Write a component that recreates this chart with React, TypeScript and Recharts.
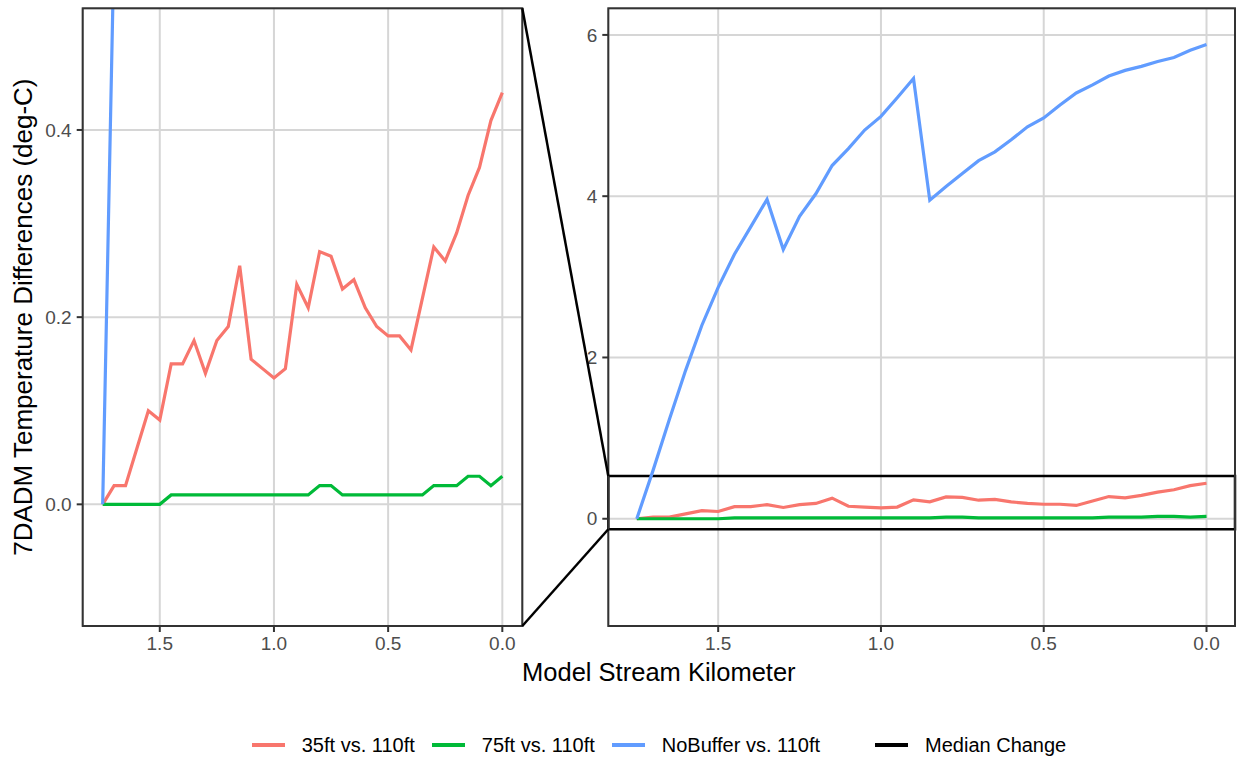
import React from "react";
import { LineChart, Line, XAxis, YAxis, CartesianGrid, ReferenceArea } from "recharts";

// stream kilometer, upstream -> downstream
const km = [
  1.75, 1.7, 1.65, 1.6, 1.55, 1.5, 1.45, 1.4, 1.35, 1.3, 1.25, 1.2,
  1.15, 1.1, 1.05, 1.0, 0.95, 0.9, 0.85, 0.8, 0.75, 0.7, 0.65, 0.6,
  0.55, 0.5, 0.45, 0.4, 0.35, 0.3, 0.25, 0.2, 0.15, 0.1, 0.05, 0.0,
];

const diff35 = [
  0, 0.02, 0.02, 0.06, 0.1, 0.09, 0.15, 0.15, 0.175, 0.14, 0.175, 0.19,
  0.255, 0.155, 0.145, 0.135, 0.145, 0.235, 0.21, 0.27, 0.265, 0.23, 0.24, 0.21,
  0.19, 0.18, 0.18, 0.165, 0.22, 0.275, 0.26, 0.29, 0.33, 0.36, 0.41, 0.44,
];

const diff75 = [
  0, 0, 0, 0, 0, 0, 0.01, 0.01, 0.01, 0.01, 0.01, 0.01,
  0.01, 0.01, 0.01, 0.01, 0.01, 0.01, 0.01, 0.02, 0.02, 0.01, 0.01, 0.01,
  0.01, 0.01, 0.01, 0.01, 0.01, 0.02, 0.02, 0.02, 0.03, 0.03, 0.02, 0.03,
];

const diffNoBuffer = [
  0, 0.6, 1.23, 1.84, 2.4, 2.87, 3.28, 3.62, 3.96, 3.34, 3.75, 4.03,
  4.38, 4.59, 4.82, 4.99, 5.22, 5.46, 3.95, 4.12, 4.28, 4.44, 4.55, 4.7,
  4.86, 4.97, 5.13, 5.28, 5.38, 5.49, 5.56, 5.61, 5.67, 5.72, 5.81, 5.88,
];

const xTicks = [1.5, 1.0, 0.5, 0.0];
const zoomTicks = [0, 0.2, 0.4];
const fullTicks = [0, 2, 4, 6];

const series = [
  { key: "d35", name: "35ft vs. 110ft", color: "#F8766D" },
  { key: "d75", name: "75ft vs. 110ft", color: "#00BA38" },
  { key: "dNB", name: "NoBuffer vs. 110ft", color: "#619CFF" },
];

const data = km.map((k, i) => ({
  km: k,
  d35: diff35[i],
  d75: diff75[i],
  dNB: diffNoBuffer[i],
}));

const FONT = "'Liberation Sans', Arial, Helvetica, sans-serif";
const xDomain: [number, number] = [-0.0875, 1.8375];
const zoomDomain: [number, number] = [-0.13, 0.53];
const fullDomain: [number, number] = [-1.33, 6.33];

// layout of the two panels (page pixels)
const CH = 660;
const TOP = 8.3;
const BOTTOM = 626;
const L_X0 = 82.7;
const L_X1 = 522.3;
const R_LEFT = 530;
const R_X0 = 608.3;
const R_X1 = 1235;

const tickStyle = { fill: "#4D4D4D", fontSize: 19, fontFamily: FONT };

const fullY = (v: number) =>
  TOP + ((fullDomain[1] - v) / (fullDomain[1] - fullDomain[0])) * (BOTTOM - TOP);

const Panel = ({ width, yWidth, right, domain, ticks, fmt, zoomBox }: any) => (
  <LineChart
    width={width}
    height={CH}
    data={data}
    margin={{ top: TOP, right, bottom: 4, left: 0 }}
  >
    <CartesianGrid stroke="#D6D6D6" strokeWidth={2} />
    <XAxis
      dataKey="km"
      type="number"
      domain={xDomain}
      reversed
      allowDataOverflow
      ticks={xTicks}
      tickFormatter={(v: number) => v.toFixed(1)}
      height={30}
      tickSize={6}
      tickMargin={5}
      axisLine={false}
      tickLine={{ stroke: "#333333", strokeWidth: 2 }}
      tick={tickStyle}
    />
    <YAxis
      type="number"
      domain={domain}
      allowDataOverflow
      ticks={ticks}
      tickFormatter={fmt}
      width={yWidth}
      tickSize={6}
      tickMargin={5}
      axisLine={false}
      tickLine={{ stroke: "#333333", strokeWidth: 2 }}
      tick={tickStyle}
    />
    {series.map((s) => (
      <Line
        key={s.key}
        type="linear"
        dataKey={s.key}
        stroke={s.color}
        strokeWidth={3.2}
        dot={false}
        isAnimationActive={false}
      />
    ))}
    {zoomBox && (
      <ReferenceArea
        y1={zoomDomain[0]}
        y2={zoomDomain[1]}
        fill="none"
        stroke="#000000"
        strokeWidth={2.5}
        ifOverflow="visible"
      />
    )}
  </LineChart>
);

const Legend = () => (
  <div
    style={{
      position: "absolute",
      top: 733,
      left: 0,
      width: 1318,
      height: 24,
      display: "flex",
      justifyContent: "center",
      alignItems: "center",
      fontFamily: FONT,
      fontSize: 20,
      color: "#000",
    }}
  >
    {[...series, { key: "median", name: "Median Change", color: "#000000" }].map((s, i) => (
      <div
        key={s.key}
        style={{
          display: "flex",
          alignItems: "center",
          marginLeft: i === 0 ? 0 : i === 3 ? 55 : 17,
        }}
      >
        <div style={{ width: 33, height: 3.5, background: s.color, marginRight: 17 }} />
        <span style={{ whiteSpace: "nowrap" }}>{s.name}</span>
      </div>
    ))}
  </div>
);

export default function App() {
  return (
    <div
      style={{
        position: "absolute",
        left: 0,
        top: 0,
        width: 1238,
        height: 759,
        background: "#fff",
        overflow: "hidden",
      }}
    >
      <div style={{ position: "absolute", left: 0, top: 0 }}>
        <Panel
          width={530}
          yWidth={L_X0}
          right={530 - L_X1}
          domain={zoomDomain}
          ticks={zoomTicks}
          fmt={(v: number) => v.toFixed(1)}
        />
      </div>
      <div style={{ position: "absolute", left: R_LEFT, top: 0 }}>
        <Panel
          width={1238 - R_LEFT}
          yWidth={R_X0 - R_LEFT}
          right={1238 - R_X1}
          domain={fullDomain}
          ticks={fullTicks}
          fmt={(v: number) => String(v)}
          zoomBox
        />
      </div>
      <svg
        width={1238}
        height={759}
        style={{ position: "absolute", left: 0, top: 0, pointerEvents: "none" }}
      >
        <rect x={L_X0} y={TOP} width={L_X1 - L_X0} height={BOTTOM - TOP} fill="none" stroke="#333333" strokeWidth={2} />
        <rect x={R_X0} y={TOP} width={R_X1 - R_X0} height={BOTTOM - TOP} fill="none" stroke="#333333" strokeWidth={2} />
        <line x1={L_X1} y1={TOP} x2={R_X0} y2={fullY(zoomDomain[1])} stroke="#000" strokeWidth={2.5} />
        <line x1={L_X1} y1={BOTTOM} x2={R_X0} y2={fullY(zoomDomain[0])} stroke="#000" strokeWidth={2.5} />
        <text
          x={(L_X0 + R_X1) / 2}
          y={681}
          textAnchor="middle"
          fontFamily={FONT}
          fontSize={25.5}
          fill="#000"
        >
          Model Stream Kilometer
        </text>
        <text
          transform={`translate(32, ${(TOP + BOTTOM) / 2}) rotate(-90)`}
          textAnchor="middle"
          fontFamily={FONT}
          fontSize={26}
          fill="#000"
        >
          7DADM Temperature Differences (deg-C)
        </text>
      </svg>
      <Legend />
    </div>
  );
}
